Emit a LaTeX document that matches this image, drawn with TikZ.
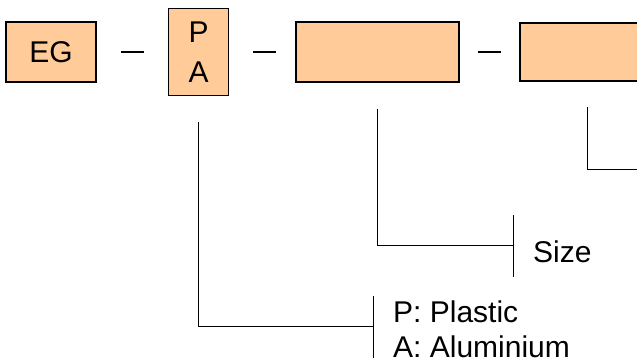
\documentclass[tikz,border=0pt]{standalone}
\usepackage{fontspec}
\setmainfont{Liberation Sans}
\usetikzlibrary{positioning}
\definecolor{codepeach}{RGB}{255, 204, 153}

\begin{document}
\begin{tikzpicture}[x=1pt, y=-1pt,
  codebox/.style={rectangle, draw=black, fill=codepeach, line width=1.6pt,
    inner sep=0pt, align=center, font=\fontsize{30}{40}\selectfont},
  sep/.style={line width=1.4pt},
  leader/.style={line width=1pt},
  label/.style={inner sep=0pt, align=left, font=\fontsize{30}{35}\selectfont}
]
  \useasboundingbox (0,0) rectangle (637,363);

  \node[codebox, minimum width=90pt, minimum height=60pt] (eg) at (51,52) {EG};
  \node[codebox, minimum width=60pt, minimum height=87pt, right=71pt of eg] (mat) {P\\A};
  \node[codebox, minimum width=163pt, minimum height=60pt, right=66pt of mat] (size) {};
  \node[codebox, minimum width=163pt, minimum height=58pt, right=59pt of size] (extra) {};

  \draw[sep, shorten <=24pt, shorten >=24pt] (eg.east) -- (eg.east -| mat.west);
  \draw[sep, shorten <=24pt, shorten >=19pt] (size.west -| mat.east) -- (size.west);
  \draw[sep, shorten <=18pt, shorten >=18pt] (size.east) -- (size.east -| extra.west);

  % leader lines
  \coordinate (sizeTick) at (513,246);
  \coordinate (matTick) at (373,326);
  \coordinate (offEdge) at (645,170);

  \draw[leader] ([yshift=-26pt]size.south) |- (sizeTick);
  \draw[leader] ([yshift=-26pt]mat.south) |- (matTick);
  \draw[leader] ([xshift=68pt, yshift=-25pt]extra.south west) |- (offEdge);
  \draw[leader] ([yshift=31pt]sizeTick) -- ([yshift=-31pt]sizeTick);
  \draw[leader] ([yshift=30pt]matTick) -- ([yshift=-32pt]matTick);

  \node[label, anchor=base west] (sizeText) at (533,263) {Size};
  \node[label, anchor=north west] (matText) at (393,301) {P: Plastic\\A: Aluminium};
\end{tikzpicture}
\end{document}
